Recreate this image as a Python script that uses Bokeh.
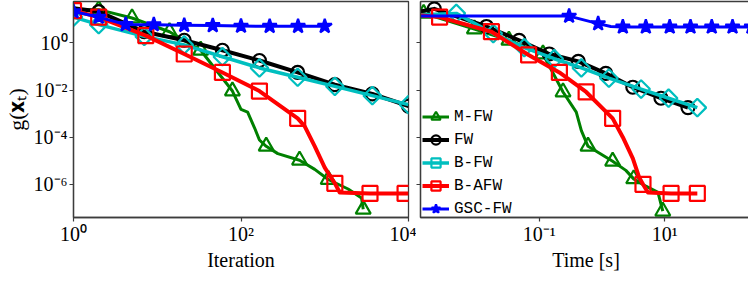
import math
from bokeh.plotting import figure
from bokeh.models import Range1d, FixedTicker, CustomJSTickFormatter, Legend, LegendItem
from bokeh.layouts import row
from bokeh.embed import file_html
from bokeh.resources import INLINE

# ---------------- data: left panel (g vs iteration) ----------------
mfw_iter = [1, 2, 5, 14, 33, 79, 100, 120, 145, 166, 200, 275, 500, 760, 1100, 1900, 2750, 2880]
mfw_iter_val = [25, 26, 11.5, 3.0, 0.49, 9.1e-3, 1.5e-3, 1.15e-3, 2.5e-4, 7.6e-5, 4.1e-5,
                2.0e-5, 1.05e-5, 4.3e-6, 1.6e-6, 6.3e-7, 2.6e-7, 8.7e-8]
mfw_iter_marks = [1, 2, 3, 4, 5, 10, 12, 14, 17]

fw_iter = [1, 2, 7, 21, 60, 166, 475, 1320, 3700, 10000]
fw_iter_val = [30, 21.5, 3.0, 1.3, 0.49, 0.18, 0.056, 0.017, 0.0069, 0.0021]
fw_iter_marks = [1, 2, 3, 4, 5, 6, 7, 8, 9]

bfw_iter = [1, 2, 7, 21, 60, 166, 475, 1320, 3700, 10000]
bfw_iter_val = [12.5, 6.0, 1.9, 0.83, 0.26, 0.087, 0.035, 0.0144, 0.0058, 0.0024]
bfw_iter_marks = [0, 1, 2, 3, 4, 5, 6, 7, 8, 9]

bafw_iter = [1, 2, 7.3, 21, 60, 166, 475, 575, 760, 1000, 1320, 1510, 3470, 9100, 10000]
bafw_iter_val = [23.5, 12.5, 2.05, 0.34, 0.056, 0.0091, 6.3e-4, 2.95e-4, 4.1e-5, 5.1e-6,
                 1.1e-6, 4.5e-7, 4.1e-7, 4.1e-7, 4.1e-7]
bafw_iter_marks = [0, 1, 2, 3, 4, 5, 6, 10, 12, 13]

gsc_iter = [1, 2, 4.2, 9.1, 21, 46, 100, 220, 480, 1000]
gsc_iter_val = [21.5, 12.5, 6.1, 6.0, 5.6, 5.5, 5.2, 5.1, 5.1, 5.1]
gsc_iter_marks = [0, 1, 2, 3, 4, 5, 6, 7, 8, 9]

# ---------------- data: right panel (g vs time [s]) ----------------
mfw_time = [6.3e-4, 1.45e-3, 0.0093, 0.033, 0.115, 0.24, 0.39, 0.47, 0.60, 0.80, 1.48,
            2.4, 3.2, 5.0, 7.8, 9.3]
mfw_time_val = [25, 18, 3.9, 1.3, 0.34, 0.0083, 1.15e-3, 1.9e-4, 4.1e-5, 2.6e-5, 9.5e-6,
                3.9e-6, 1.7e-6, 8.3e-7, 4.5e-7, 7.2e-8]
mfw_time_marks = [1, 2, 3, 4, 5, 8, 10, 12, 15]

fw_time = [7.9e-4, 0.00214, 0.0145, 0.048, 0.145, 0.42, 1.15, 3.1, 8.7, 23.4]
fw_time_val = [17, 28, 5.0, 1.3, 0.34, 0.166, 0.051, 0.0132, 0.0045, 0.0018]
fw_time_marks = [1, 2, 3, 4, 5, 6, 7, 8, 9]

bfw_time = [7.9e-4, 0.0048, 0.0186, 0.058, 0.174, 0.47, 1.29, 4.2, 11.5, 33]
bfw_time_val = [15, 18, 2.5, 0.63, 0.214, 0.087, 0.032, 0.011, 0.0045, 0.0018]
bfw_time_marks = [1, 2, 3, 4, 5, 6, 7, 8, 9]

bafw_time = [6.3e-4, 0.0026, 0.0174, 0.068, 0.21, 0.56, 1.48, 2.15, 3.1, 3.9, 4.5, 5.4, 12.6, 33]
bafw_time_val = [18, 12.5, 3.0, 0.31, 0.056, 0.0083, 6.3e-4, 1.0e-4, 1.26e-5, 2.0e-6,
                 1.0e-6, 4.5e-7, 4.1e-7, 4.1e-7]
bafw_time_marks = [1, 2, 3, 4, 5, 6, 10, 12, 13]

gsc_time = [6.3e-4, 0.30, 0.87, 1.38, 2.15, 5.0, 12, 25.7, 56, 120, 240]
gsc_time_val = [13.8, 13.8, 6.6, 5.0, 4.8, 4.8, 4.8, 4.8, 4.8, 4.8, 4.8]
gsc_time_marks = [1, 2, 4, 5, 6, 7, 8, 9, 10]

series_names = ["M-FW", "FW", "B-FW", "B-AFW", "GSC-FW"]

x_ticks_iter = [1, 100, 10000]
x_ticks_time = [0.1, 10]
y_ticks = [1e-6, 1e-4, 1e-2, 1]

# ---------------- styles ----------------
STYLE = {
    "M-FW":   dict(color="#008000", marker="triangle", size=15, angle=0.0, lw=3.0, filled=False),
    "FW":     dict(color="#000000", marker="circle", size=13, angle=0.0, lw=4.0, filled=False),
    "B-FW":   dict(color="#00BFBF", marker="square", size=12.5, angle=math.pi / 4, lw=3.5, filled=False),
    "B-AFW":  dict(color="#FF0000", marker="square", size=15, angle=0.0, lw=4.0, filled=False),
    "GSC-FW": dict(color="#0000FF", marker="star", size=15, angle=0.0, lw=3.0, filled=True),
}

SERIF = "Liberation Serif"
MONO = "Liberation Mono"
AX_COLOR = "#3c3c3c"

sup_fmt = CustomJSTickFormatter(code="""
const e = Math.round(Math.log10(tick));
const m = {"0":"\u2070","1":"\u00b9","2":"\u00b2","3":"\u00b3","4":"\u2074","5":"\u2075",
           "6":"\u2076","7":"\u2077","8":"\u2078","9":"\u2079","-":"\u207b"};
return "10" + String(e).split("").map(c => m[c]).join("");
""")
blank_fmt = CustomJSTickFormatter(code="return '';")

y_range = Range1d(10 ** -7.41, 10 ** 1.76)


def style_axes(p):
    p.grid.visible = False
    p.outline_line_color = AX_COLOR
    p.outline_line_width = 1.3
    p.background_fill_color = "white"
    p.border_fill_color = "white"
    for ax in (p.xaxis[0], p.yaxis[0]):
        ax.axis_line_color = AX_COLOR
        ax.axis_line_width = 1.3
        ax.major_tick_line_color = AX_COLOR
        ax.major_tick_line_width = 1.2
        ax.major_tick_out = 4
        ax.major_tick_in = 0
        ax.minor_tick_line_color = None
        ax.major_label_text_font = SERIF
        ax.major_label_text_font_size = "20px"
        ax.major_label_text_color = "black"
        ax.axis_label_text_font = SERIF
        ax.axis_label_text_font_size = "20px"
        ax.axis_label_text_font_style = "normal"
        ax.axis_label_text_color = "black"


def draw(p, xs, ys, marks, name):
    s = STYLE[name]
    rl = p.line(xs, ys, line_color=s["color"], line_width=s["lw"], line_join="round")
    mx = [xs[i] for i in marks]
    my = [ys[i] for i in marks]
    rm = p.scatter(mx, my, marker=s["marker"], size=s["size"], angle=s["angle"],
                   line_color=s["color"], line_width=2.2,
                   fill_color=s["color"] if s["filled"] else None)
    return [rl, rm]


# ---------------- left panel ----------------
p1 = figure(x_axis_type="log", y_axis_type="log",
            x_range=Range1d(1, 1e4), y_range=y_range,
            frame_width=335, frame_height=216,
            min_border_left=62, min_border_right=8, min_border_top=1, min_border_bottom=52,
            output_backend="svg", toolbar_location=None)
style_axes(p1)
p1.xaxis[0].ticker = FixedTicker(ticks=x_ticks_iter, minor_ticks=[])
p1.yaxis[0].ticker = FixedTicker(ticks=y_ticks, minor_ticks=[])
p1.xaxis[0].formatter = sup_fmt
p1.yaxis[0].formatter = sup_fmt
p1.xaxis[0].major_label_standoff = 1
p1.yaxis[0].major_label_standoff = 2
p1.xaxis[0].axis_label = "Iteration"
p1.xaxis[0].axis_label_standoff = 1
p1.yaxis[0].axis_label = "g(\U0001D431\u209C)"
p1.yaxis[0].axis_label_text_font_size = "22px"
p1.yaxis[0].axis_label_standoff = 2

left_data = [
    (mfw_iter, mfw_iter_val, mfw_iter_marks),
    (fw_iter, fw_iter_val, fw_iter_marks),
    (bfw_iter, bfw_iter_val, bfw_iter_marks),
    (bafw_iter, bafw_iter_val, bafw_iter_marks),
    (gsc_iter, gsc_iter_val, gsc_iter_marks),
]
for name, (xs, ys, mk) in zip(series_names, left_data):
    draw(p1, xs, ys, mk, name)

# ---------------- right panel ----------------
p2 = figure(x_axis_type="log", y_axis_type="log",
            x_range=Range1d(10 ** -2.889, 10 ** 2.381), y_range=y_range,
            frame_width=331, frame_height=216,
            min_border_left=2, min_border_right=2, min_border_top=1, min_border_bottom=52,
            output_backend="svg", toolbar_location=None)
style_axes(p2)
p2.xaxis[0].ticker = FixedTicker(ticks=x_ticks_time, minor_ticks=[])
p2.yaxis[0].ticker = FixedTicker(ticks=y_ticks, minor_ticks=[])
p2.xaxis[0].formatter = sup_fmt
p2.yaxis[0].formatter = blank_fmt
p2.yaxis[0].major_label_standoff = 0
p2.xaxis[0].major_label_standoff = 1
p2.xaxis[0].axis_label = "Time [s]"
p2.xaxis[0].axis_label_standoff = 1

right_data = [
    (mfw_time, mfw_time_val, mfw_time_marks),
    (fw_time, fw_time_val, fw_time_marks),
    (bfw_time, bfw_time_val, bfw_time_marks),
    (bafw_time, bafw_time_val, bafw_time_marks),
    (gsc_time, gsc_time_val, gsc_time_marks),
]
items = []
for name, (xs, ys, mk) in zip(series_names, right_data):
    rs = draw(p2, xs, ys, mk, name)
    items.append(LegendItem(label=name, renderers=rs))

legend = Legend(items=items, location=(2, -3), padding=0, margin=0, spacing=0,
                glyph_width=27, glyph_height=23, label_height=16, label_standoff=5,
                label_text_font=MONO, label_text_font_size="16px",
                label_text_color="black", border_line_color=None,
                background_fill_alpha=0.0)
p2.add_layout(legend)

layout = row(p1, p2)
with open("out.html", "w", encoding="utf-8") as f:
    f.write(file_html(layout, INLINE))
